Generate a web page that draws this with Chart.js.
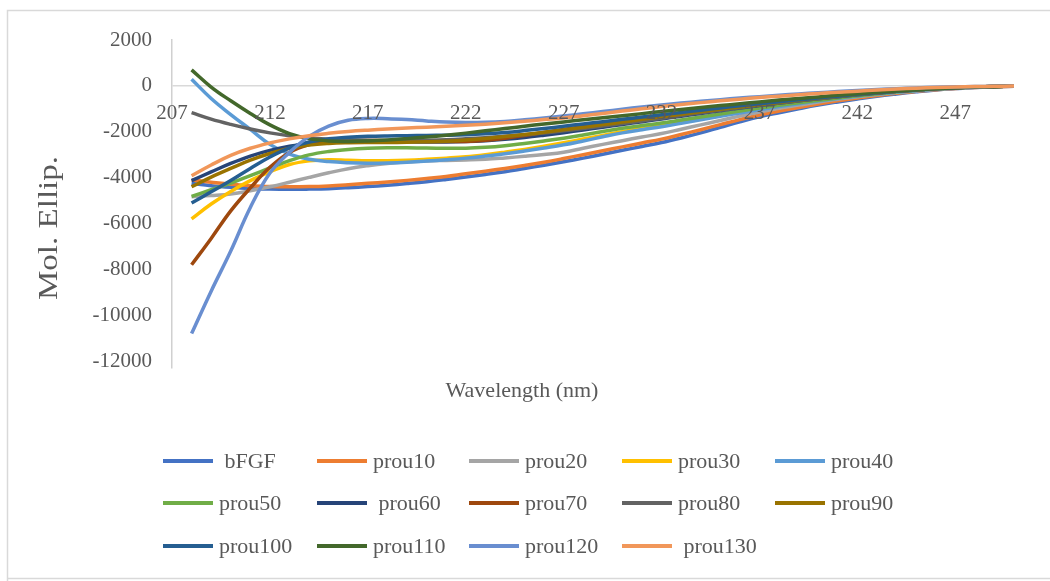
<!DOCTYPE html>
<html>
<head>
<meta charset="utf-8">
<script src="https://cdn.jsdelivr.net/npm/chart.js@4.4.1/dist/chart.umd.min.js"></script>
<style>
html,body{margin:0;padding:0;background:#ffffff;}
#wrap{width:1050px;height:581px;position:relative;}
canvas{display:block;}
</style>
</head>
<body>
<div id="wrap"><canvas id="c" width="1050" height="581" style="width:1050px;height:581px"></canvas></div>
<script>
// ---------- DATA ----------
const wavelengths = ['207','208','209','210','211','212','213','214','215','216','217','218','219','220','221','222','223','224','225','226','227','228','229','230','231','232','233','234','235','236','237','238','239','240','241','242','243','244','245','246','247','248','249','250'];
const xTickLabels = ['207','212','217','222','227','232','237','242','247'];
const yTickValues = [2000,0,-2000,-4000,-6000,-8000,-10000,-12000];
const seriesNames = [' bFGF','prou10','prou20','prou30','prou40','prou50',' prou60','prou70','prou80','prou90','prou100','prou110','prou120',' prou130'];
const seriesColors = ['#4472C4','#ED7D31','#A5A5A5','#FFC000','#5B9BD5','#70AD47','#264478','#9E480E','#636363','#997300','#255E91','#43682B','#698ED0','#F1975A'];

const bFGF    = [null,-4250,-4350,-4420,-4470,-4500,-4510,-4500,-4480,-4440,-4390,-4330,-4260,-4180,-4080,-3970,-3860,-3740,-3600,-3460,-3310,-3150,-2980,-2810,-2640,-2470,-2270,-2050,-1810,-1570,-1350,-1170,-1000,-840,-700,-570,-450,-350,-260,-180,-120,-70,-40,-20];
const prou10  = [null,-4100,-4200,-4290,-4350,-4390,-4400,-4390,-4360,-4310,-4250,-4190,-4120,-4040,-3950,-3830,-3720,-3600,-3470,-3330,-3170,-3000,-2830,-2660,-2490,-2320,-2120,-1910,-1690,-1470,-1270,-1100,-940,-790,-650,-530,-420,-320,-240,-170,-110,-70,-40,-20];
const prou20  = [null,-4830,-4780,-4710,-4570,-4400,-4200,-3990,-3790,-3610,-3480,-3380,-3310,-3270,-3250,-3230,-3200,-3140,-3070,-2990,-2890,-2720,-2550,-2390,-2230,-2080,-1890,-1700,-1510,-1320,-1140,-980,-840,-700,-580,-470,-380,-290,-220,-150,-100,-60,-30,-10];
const prou30  = [null,-5800,-5150,-4600,-4130,-3750,-3430,-3270,-3220,-3240,-3260,-3260,-3240,-3200,-3150,-3090,-3000,-2890,-2770,-2630,-2480,-2320,-2160,-2000,-1850,-1720,-1580,-1440,-1290,-1150,-1010,-880,-760,-640,-530,-430,-340,-260,-190,-130,-90,-50,-30,-10];
const prou40  = [null,290,-550,-1250,-1900,-2550,-2980,-3200,-3300,-3350,-3370,-3360,-3330,-3280,-3220,-3150,-3060,-2960,-2840,-2710,-2570,-2400,-2220,-2050,-1910,-1780,-1630,-1480,-1330,-1180,-1040,-900,-780,-660,-550,-450,-360,-280,-210,-150,-100,-60,-30,-10];
const prou50  = [null,-4820,-4530,-4240,-3910,-3580,-3260,-3010,-2860,-2770,-2720,-2700,-2700,-2710,-2720,-2720,-2680,-2610,-2510,-2400,-2280,-2140,-1990,-1850,-1730,-1620,-1490,-1360,-1230,-1100,-970,-850,-740,-630,-530,-430,-340,-260,-190,-130,-90,-50,-30,-10];
const prou60  = [null,-4130,-3750,-3380,-3060,-2810,-2630,-2520,-2460,-2430,-2420,-2430,-2440,-2450,-2450,-2430,-2390,-2330,-2250,-2150,-2040,-1920,-1800,-1680,-1560,-1440,-1320,-1200,-1080,-970,-860,-750,-650,-560,-470,-390,-310,-240,-180,-120,-80,-50,-30,-10];
const prou70  = [null,-7800,-6650,-5450,-4450,-3550,-2900,-2560,-2430,-2390,-2380,-2390,-2400,-2420,-2430,-2420,-2370,-2280,-2160,-2030,-1900,-1780,-1660,-1540,-1430,-1320,-1210,-1100,-1000,-900,-800,-710,-620,-540,-450,-370,-300,-230,-170,-120,-80,-50,-30,-10];
const prou80  = [null,-1170,-1450,-1680,-1880,-2050,-2180,-2270,-2320,-2350,-2370,-2380,-2380,-2370,-2350,-2310,-2260,-2200,-2130,-2050,-1960,-1860,-1750,-1640,-1530,-1410,-1290,-1170,-1060,-950,-850,-750,-650,-560,-470,-390,-310,-240,-180,-120,-80,-50,-30,-10];
const prou90  = [null,-4400,-3980,-3600,-3240,-2950,-2720,-2580,-2510,-2480,-2470,-2470,-2460,-2440,-2410,-2360,-2290,-2210,-2120,-2020,-1910,-1800,-1690,-1580,-1460,-1350,-1240,-1130,-1020,-920,-820,-720,-630,-540,-450,-370,-300,-230,-170,-120,-80,-50,-30,-10];
const prou100 = [null,-5110,-4620,-4130,-3600,-3100,-2700,-2450,-2310,-2240,-2200,-2180,-2170,-2160,-2150,-2130,-2090,-2030,-1950,-1860,-1760,-1660,-1560,-1460,-1360,-1260,-1160,-1060,-960,-870,-780,-690,-610,-530,-450,-370,-300,-230,-170,-120,-80,-50,-30,-10];
const prou110 = [null,700,-50,-650,-1200,-1700,-2080,-2300,-2400,-2420,-2400,-2360,-2300,-2230,-2150,-2060,-1960,-1860,-1760,-1660,-1570,-1480,-1390,-1300,-1210,-1120,-1030,-940,-860,-780,-700,-620,-550,-480,-410,-340,-280,-220,-170,-120,-80,-50,-30,-10];
const prou120 = [null,-10800,-8950,-7200,-5300,-3800,-2900,-2200,-1750,-1500,-1420,-1430,-1470,-1530,-1580,-1600,-1590,-1550,-1480,-1400,-1310,-1220,-1120,-1020,-920,-830,-750,-670,-600,-530,-470,-410,-350,-300,-250,-200,-160,-120,-90,-60,-40,-30,-20,-10];
const prou130 = [null,-3920,-3450,-3030,-2720,-2490,-2310,-2170,-2070,-1990,-1930,-1880,-1840,-1800,-1760,-1720,-1670,-1610,-1540,-1470,-1400,-1300,-1200,-1100,-1000,-900,-810,-730,-650,-580,-510,-450,-390,-330,-280,-230,-180,-140,-100,-70,-50,-30,-20,-10];

const seriesValues = [bFGF,prou10,prou20,prou30,prou40,prou50,prou60,prou70,prou80,prou90,prou100,prou110,prou120,prou130];

// ---------- STYLE / LAYOUT ----------
const TEXT = '#595959';
const SERIF = '"Liberation Serif", "Times New Roman", serif';

const datasets = seriesValues.map((vals, i) => ({
  label: seriesNames[i],
  data: vals,
  borderColor: seriesColors[i],
  backgroundColor: seriesColors[i],
  borderWidth: 3.5,
  pointRadius: 0,
  pointHoverRadius: 0,
  tension: 0.4,
  fill: false,
  order: seriesValues.length - 1 - i
}));

const decorPlugin = {
  id: 'decor',
  beforeDraw(chart) {
    const ctx = chart.ctx;
    ctx.save();
    ctx.fillStyle = '#ffffff';
    ctx.fillRect(0, 0, chart.width, chart.height);
    ctx.strokeStyle = '#D9D9D9';
    ctx.lineWidth = 1.5;
    ctx.beginPath();
    ctx.moveTo(7.5, chart.height);
    ctx.lineTo(7.5, 10.5);
    ctx.lineTo(chart.width, 10.5);
    ctx.moveTo(7.5, 578.5);
    ctx.lineTo(chart.width, 578.5);
    ctx.stroke();
    ctx.restore();
  },
  afterDraw(chart) {
    const ctx = chart.ctx;
    ctx.save();
    ctx.fillStyle = TEXT;
    // axis titles
    ctx.font = '22px ' + SERIF;
    ctx.textAlign = 'center';
    ctx.textBaseline = 'middle';
    ctx.fillText('Wavelength (nm)', 522, 391);
    ctx.save();
    ctx.translate(50, 228);
    ctx.rotate(-Math.PI / 2);
    ctx.scale(1.18, 1);
    ctx.font = '28px ' + SERIF;
    ctx.fillText('Mol. Ellip.', 0, 0);
    ctx.restore();

    // legend grid
    const colX = [163, 317, 469, 622, 775];
    const rowY = [461, 503, 546];
    const lineLen = 50;
    ctx.font = '22px ' + SERIF;
    ctx.textAlign = 'left';
    ctx.textBaseline = 'middle';
    chart.data.datasets.forEach((ds, i) => {
      const c = i % 5, r = Math.floor(i / 5);
      const x = colX[c], y = rowY[r];
      ctx.strokeStyle = ds.borderColor;
      ctx.lineWidth = 4;
      ctx.lineCap = 'butt';
      ctx.beginPath();
      ctx.moveTo(x, y);
      ctx.lineTo(x + lineLen, y);
      ctx.stroke();
      ctx.fillStyle = TEXT;
      ctx.fillText(ds.label, x + lineLen + 6, y + 1);
    });
    ctx.restore();
  }
};

new Chart(document.getElementById('c'), {
  type: 'line',
  data: { labels: wavelengths, datasets },
  options: {
    responsive: false,
    animation: false,
    devicePixelRatio: 1,
    layout: { padding: { left: 0, right: 36, top: 40, bottom: 213 } },
    plugins: { legend: { display: false }, tooltip: { enabled: false }, title: { display: false } },
    scales: {
      x: {
        type: 'category',
        offset: false,
        position: { y: 0 },
        grid: { display: false, drawOnChartArea: false, drawTicks: false },
        border: { display: false },
        ticks: {
          z: 1,
          autoSkip: false,
          maxRotation: 0,
          minRotation: 0,
          padding: 15,
          color: TEXT,
          font: { family: SERIF, size: 21 },
          callback: function (v) {
            const l = this.getLabelForValue(v);
            return xTickLabels.includes(l) ? l : '';
          }
        },
        afterFit: (s) => { s.height = 0; }
      },
      y: {
        type: 'linear',
        position: 'left',
        min: -12300,
        max: 2000,
        afterBuildTicks: (s) => { s.ticks = yTickValues.map(v => ({ value: v })); },
        grid: {
          display: true,
          drawOnChartArea: true,
          drawTicks: false,
          lineWidth: 1.5,
          color: (c) => (c.tick && c.tick.value === 0) ? '#D9D9D9' : 'rgba(0,0,0,0)'
        },
        border: { display: true, color: '#D0D0D0', width: 1.5 },
        ticks: {
          padding: 20,
          color: TEXT,
          font: { family: SERIF, size: 21 },
          callback: (v) => String(v)
        },
        afterFit: (s) => { s.width = 172; }
      }
    }
  },
  plugins: [decorPlugin]
});
</script>
</body>
</html>
